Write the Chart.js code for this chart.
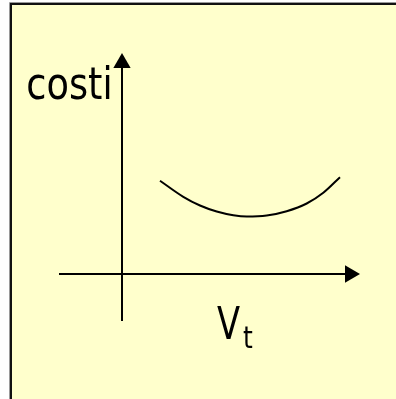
<!DOCTYPE html>
<html>
<head>
<meta charset="utf-8">
<script src="https://cdn.jsdelivr.net/npm/chart.js@4"></script>
<style>
  html, body { margin: 0; padding: 0; background: #ffffff; }
  #wrap { width: 396px; height: 399px; }
</style>
</head>
<body>
<div id="wrap"><canvas id="c" width="396" height="399"></canvas></div>
<script>
// Conceptual cost curve (arbitrary units, origin where the axes cross)
const curveX = [3.8, 6.13, 7.8, 9.47, 11.13, 12.47, 14.47, 16.47, 18.47, 20.13, 21.8];
const curveY = [9.33, 7.72, 6.85, 6.25, 5.88, 5.75, 5.85, 6.28, 7.05, 8.12, 9.68];

// Axis extents (same units)
const xAxisRange = [-6.3, 22.8];   // horizontal axis: start, arrow-head centre
const yAxisRange = [-4.7, 21.1];   // vertical axis: start, arrow-head centre

// Labels
const yLabel = 'costi';
const xLabelMain = 'V';
const xLabelSub = 't';

const curveData = curveX.map((x, i) => ({ x: x, y: curveY[i] }));
const hAxisData = [{ x: xAxisRange[0], y: 0 }, { x: xAxisRange[1], y: 0 }];
const vAxisData = [{ x: 0, y: yAxisRange[0] }, { x: 0, y: yAxisRange[1] }];

const framePlugin = {
  id: 'frame',
  beforeDraw(chart) {
    const ctx = chart.ctx;
    ctx.save();
    ctx.fillStyle = '#ffffff';
    ctx.fillRect(0, 0, chart.width, chart.height);
    ctx.fillStyle = '#FFFFCC';
    ctx.fillRect(11, 4, chart.width + 10, chart.height + 10);
    ctx.strokeStyle = '#9a9a9a';
    ctx.lineWidth = 1;
    ctx.beginPath();
    ctx.moveTo(9.5, chart.height + 5);
    ctx.lineTo(9.5, 2.5);
    ctx.lineTo(chart.width + 5, 2.5);
    ctx.stroke();
    ctx.strokeStyle = '#111111';
    ctx.lineWidth = 2;
    ctx.beginPath();
    ctx.moveTo(11, chart.height + 5);
    ctx.lineTo(11, 4);
    ctx.lineTo(chart.width + 5, 4);
    ctx.stroke();
    ctx.restore();
  }
};

function fitText(ctx, text, font, left, right, baseline) {
  ctx.save();
  ctx.font = font;
  const m = ctx.measureText(text);
  const inkW = m.actualBoundingBoxLeft + m.actualBoundingBoxRight;
  const sx = (right - left) / inkW;
  ctx.translate(left, baseline);
  ctx.scale(sx, 1);
  ctx.textBaseline = 'alphabetic';
  ctx.textAlign = 'left';
  ctx.fillStyle = '#000000';
  ctx.fillText(text, m.actualBoundingBoxLeft, 0);
  ctx.restore();
}

const labelPlugin = {
  id: 'labels',
  afterDatasetsDraw(chart) {
    const ctx = chart.ctx;
    fitText(ctx, yLabel, '44px "DejaVu Sans"', 28, 110, 99);
    fitText(ctx, xLabelMain, '44px "DejaVu Sans"', 217, 240, 339);
    fitText(ctx, xLabelSub, '30px "DejaVu Sans"', 243, 253, 348);
  }
};

new Chart(document.getElementById('c'), {
  type: 'scatter',
  data: {
    datasets: [
      { data: hAxisData, showLine: true, borderColor: '#000', borderWidth: 2, pointRadius: 0 },
      { data: vAxisData, showLine: true, borderColor: '#000', borderWidth: 2, pointRadius: 0 },
      { data: [hAxisData[1]], showLine: false, pointStyle: 'triangle', rotation: 90,
        pointRadius: 10, pointBackgroundColor: '#000', pointBorderColor: '#000', pointBorderWidth: 0 },
      { data: [vAxisData[1]], showLine: false, pointStyle: 'triangle', rotation: 0,
        pointRadius: 10, pointBackgroundColor: '#000', pointBorderColor: '#000', pointBorderWidth: 0 },
      { data: curveData, showLine: true, borderColor: '#000', borderWidth: 2, pointRadius: 0,
        cubicInterpolationMode: 'monotone' }
    ]
  },
  options: {
    responsive: false,
    animation: false,
    layout: { padding: 0, autoPadding: false },
    plugins: { legend: { display: false }, tooltip: { enabled: false } },
    scales: {
      x: { type: 'linear', display: false, min: -12.2, max: 27.4 },
      y: { type: 'linear', display: false, min: -12.5, max: 27.4 }
    }
  },
  plugins: [framePlugin, labelPlugin]
});
</script>
</body>
</html>
